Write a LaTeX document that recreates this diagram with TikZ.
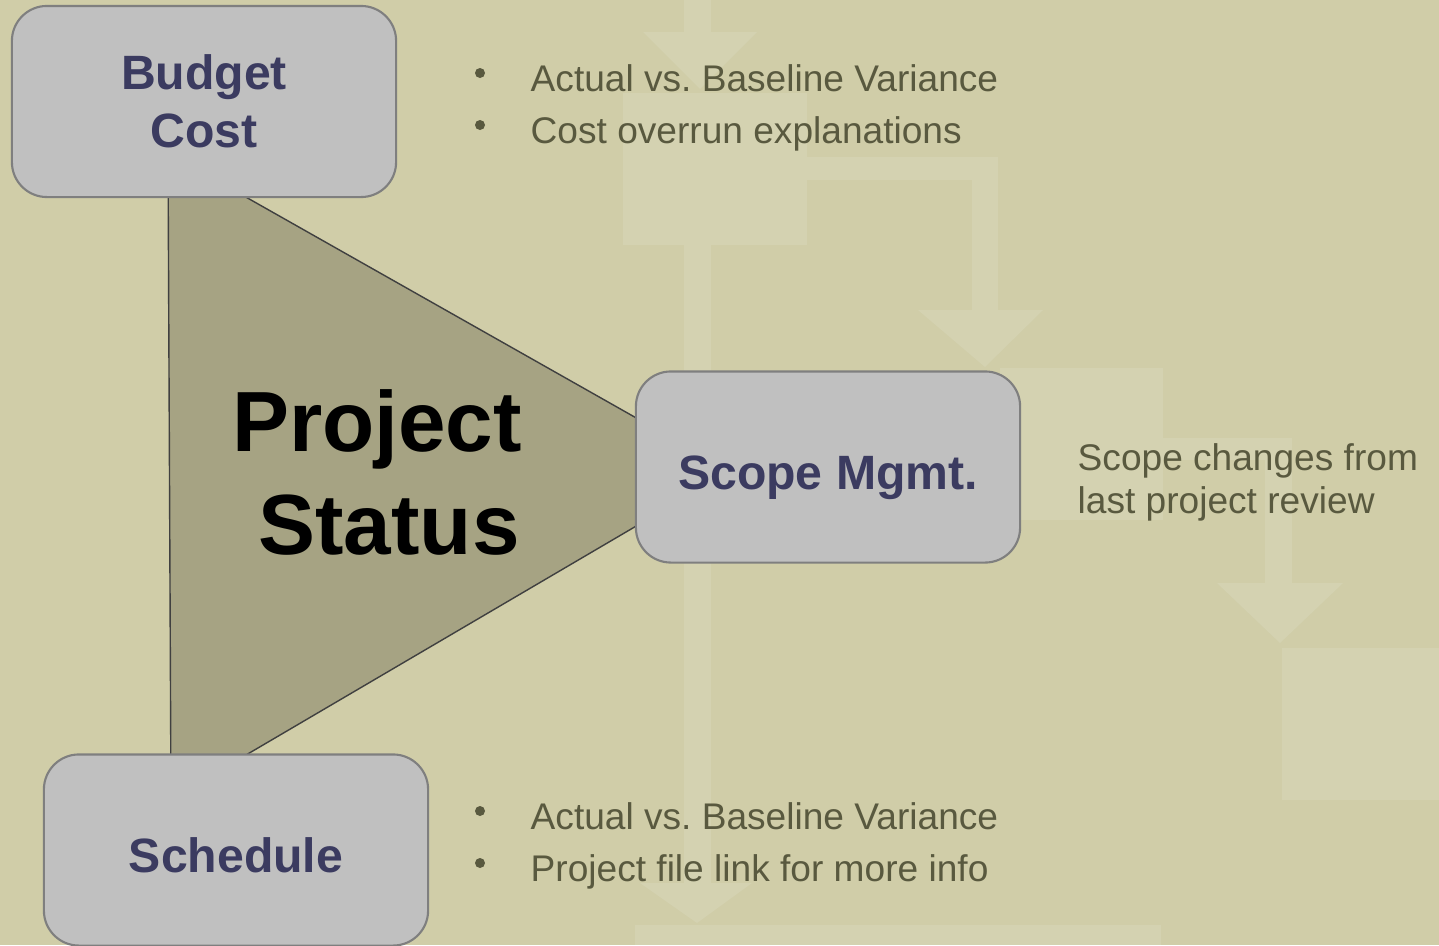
\documentclass[tikz,border=0pt]{standalone}
\usepackage{fontspec}
\setmainfont{Liberation Sans}
\definecolor{khaki}{HTML}{D0CDA8}
\definecolor{khakilight}{HTML}{D4D2B1}
\definecolor{khakidark}{HTML}{A6A383}
\definecolor{boxgrey}{HTML}{C0C0C0}
\definecolor{boxline}{HTML}{7F7F7F}
\definecolor{navytext}{HTML}{3B3B60}
\definecolor{olivetext}{HTML}{59593F}
\begin{document}
\frenchspacing
\begin{tikzpicture}[x=0.01cm, y=-0.01cm,
  statusbox/.style={draw=boxline, line width=0.6pt, fill=boxgrey, rounded corners=0.35cm,
    minimum width=3.84cm, minimum height=1.91cm, align=center, text=navytext,
    font=\fontsize{13.7}{16.6}\selectfont\bfseries},
  oneline/.style={text height=0.44cm, text depth=0cm},
  note/.style={anchor=base west, inner sep=0pt, text=olivetext, font=\fontsize{10.55}{12}\selectfont},
  faint/.style={fill=khakilight}]
\useasboundingbox (0,0) rectangle (1439,945);
\fill[khaki] (0,0) rectangle (1439,945);
% faint flowchart behind
\fill[faint] (684,0) rectangle (711,32);
\fill[faint] (643,32) -- (757,32) -- (700,89) -- cycle;
\fill[faint] (623,93) rectangle (807,245);
\fill[faint] (684,245) rectangle (711,883);
\fill[faint] (640,883) -- (752,883) -- (697,923) -- cycle;
\fill[faint] (635,925) rectangle (1161,945);
\fill[faint] (807,157) rectangle (998,180);
\fill[faint] (972,180) rectangle (998,310);
\fill[faint] (918,310) -- (1043,310) -- (985,367) -- cycle;
\fill[faint] (1000,368) rectangle (1163,520);
\fill[faint] (1163,438) rectangle (1292,460);
\fill[faint] (1265,460) rectangle (1292,583);
\fill[faint] (1217,583) -- (1343,583) -- (1280,643) -- cycle;
\fill[faint] (1282,648) rectangle (1439,800);

% status triangle
\draw[fill=khakidark, draw=black!75, line width=0.4pt] (168,153) -- (730,471) -- (171,799) -- cycle;
\node[font=\fontsize{24.3}{29.3}\selectfont\bfseries, align=center] (status) at (377,472) {Project\\\hspace*{0.24cm}Status};

% boxes
\node[statusbox] (budget) at (204,101.5) {Budget\\Cost};
\node[statusbox, oneline] (scope) at (828,467) {Scope Mgmt.};
\node[statusbox, oneline] (sched) at (236,850) {Schedule};

% notes
\fill[olivetext] (480,73) circle [radius=5];
\node[note] (cost1) at (530,91) {Actual vs. Baseline Variance};
\fill[olivetext] (480,125) circle [radius=5];
\node[note] (cost2) at (530,143) {Cost overrun explanations};
\node[note, align=left] (scopenote) at (1077,513) {Scope changes from\\last project review};
\fill[olivetext] (480,811) circle [radius=5];
\node[note] (sched1) at (530,829) {Actual vs. Baseline Variance};
\fill[olivetext] (480,863) circle [radius=5];
\node[note] (sched2) at (530,881) {Project file link for more info};
\end{tikzpicture}
\end{document}
